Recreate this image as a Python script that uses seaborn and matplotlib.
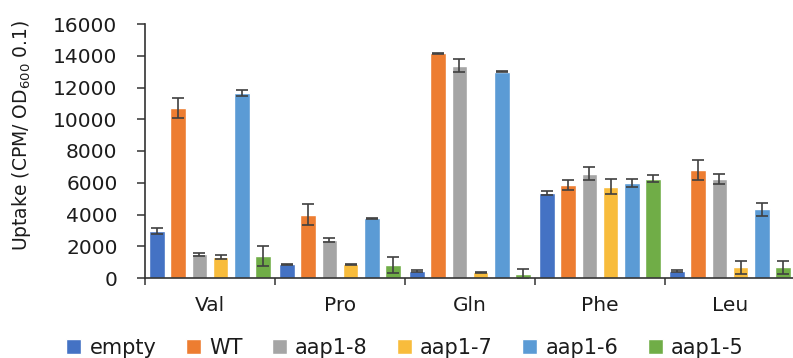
import numpy as np
import pandas as pd
import matplotlib
matplotlib.use("Agg")
import matplotlib.pyplot as plt
import seaborn as sns

amino_acids = ["Val", "Pro", "Gln", "Phe", "Leu"]
strains = ["empty", "WT", "aap1-8", "aap1-7", "aap1-6", "aap1-5"]

empty = [2950, 860, 440, 5370, 440]
wt = [10730, 3970, 14150, 5860, 6800]
aap1_8 = [1490, 2390, 13370, 6570, 6240]
aap1_7 = [1340, 860, 360, 5750, 670]
aap1_6 = [11670, 3760, 13000, 6000, 4330]
aap1_5 = [1400, 820, 250, 6260, 670]

empty_err = [200, 40, 40, 120, 40]
wt_err = [630, 660, 40, 310, 650]
aap1_8_err = [100, 130, 400, 400, 330]
aap1_7_err = [120, 40, 40, 490, 400]
aap1_6_err = [200, 40, 40, 240, 410]
aap1_5_err = [620, 480, 340, 230, 400]

colors = ["#4472C4", "#ED7D31", "#A5A5A5", "#F8BC3C", "#5B9BD5", "#70AD47"]

values = [empty, wt, aap1_8, aap1_7, aap1_6, aap1_5]
errors = [empty_err, wt_err, aap1_8_err, aap1_7_err, aap1_6_err, aap1_5_err]

rows = []
for s, vals in zip(strains, values):
    for aa, v in zip(amino_acids, vals):
        rows.append({"aa": aa, "strain": s, "uptake": v})
df = pd.DataFrame(rows)

sns.set_theme(style="white")
plt.rcParams["font.family"] = ["DejaVu Sans"]

fig = plt.figure(figsize=(7.93, 3.58), dpi=100)
ax = fig.add_axes([145 / 793, (358 - 278) / 358, 650 / 793, 254 / 358])

sns.barplot(data=df, x="aa", y="uptake", hue="strain", order=amino_acids,
            hue_order=strains, palette=colors, width=0.97, gap=0.24,
            errorbar=None, saturation=1, ax=ax)

for cont, errs in zip(ax.containers, errors):
    xs = [b.get_x() + b.get_width() / 2 for b in cont]
    hs = [b.get_height() for b in cont]
    ax.errorbar(xs, hs, yerr=errs, fmt="none", ecolor="#404040",
                elinewidth=1.2, capsize=4.3, capthick=1.2, zorder=5)

handles, labels = ax.get_legend_handles_labels()
if ax.get_legend() is not None:
    ax.get_legend().remove()

ax.set_xlim(-0.5, 4.5)
ax.set_ylim(0, 16000)
ax.set_yticks(np.arange(0, 16001, 2000))
ax.set_xticks(np.arange(-0.5, 4.6, 1.0))
ax.set_xticklabels([])
ax.set_xticks(np.arange(0, 5), minor=True)
ax.set_xticklabels(amino_acids, minor=True)
ax.set_xlabel("")
ax.set_ylabel("")

for side in ["top", "right"]:
    ax.spines[side].set_visible(False)
for side in ["left", "bottom"]:
    ax.spines[side].set_color("#333333")
    ax.spines[side].set_linewidth(1.2)

ax.tick_params(axis="y", which="major", direction="out", length=5.8, width=1.1,
               color="#333333", left=True, pad=14, labelsize=14.5, labelcolor="#1c1c1c")
ax.tick_params(axis="x", which="major", direction="out", length=5, width=1.1,
               color="#333333", bottom=True)
ax.tick_params(axis="x", which="minor", length=0, pad=13, labelsize=14.5,
               labelcolor="#1c1c1c", bottom=True)

fig.text(22 / 793, 1 - 135 / 358, r"Uptake (CPM/ OD$_{600}$ 0.1)", rotation=90,
         ha="center", va="center", fontsize=13.5, color="#1c1c1c")

fig.legend(handles, labels, loc="center", bbox_to_anchor=(405 / 793, 1 - 348 / 358),
           ncol=6, frameon=False, fontsize=15, handlelength=0.72, handleheight=0.72,
           handletextpad=0.4, columnspacing=1.4, borderpad=0, labelcolor="#1c1c1c")

fig.savefig("out.png", dpi=100, facecolor="white")
